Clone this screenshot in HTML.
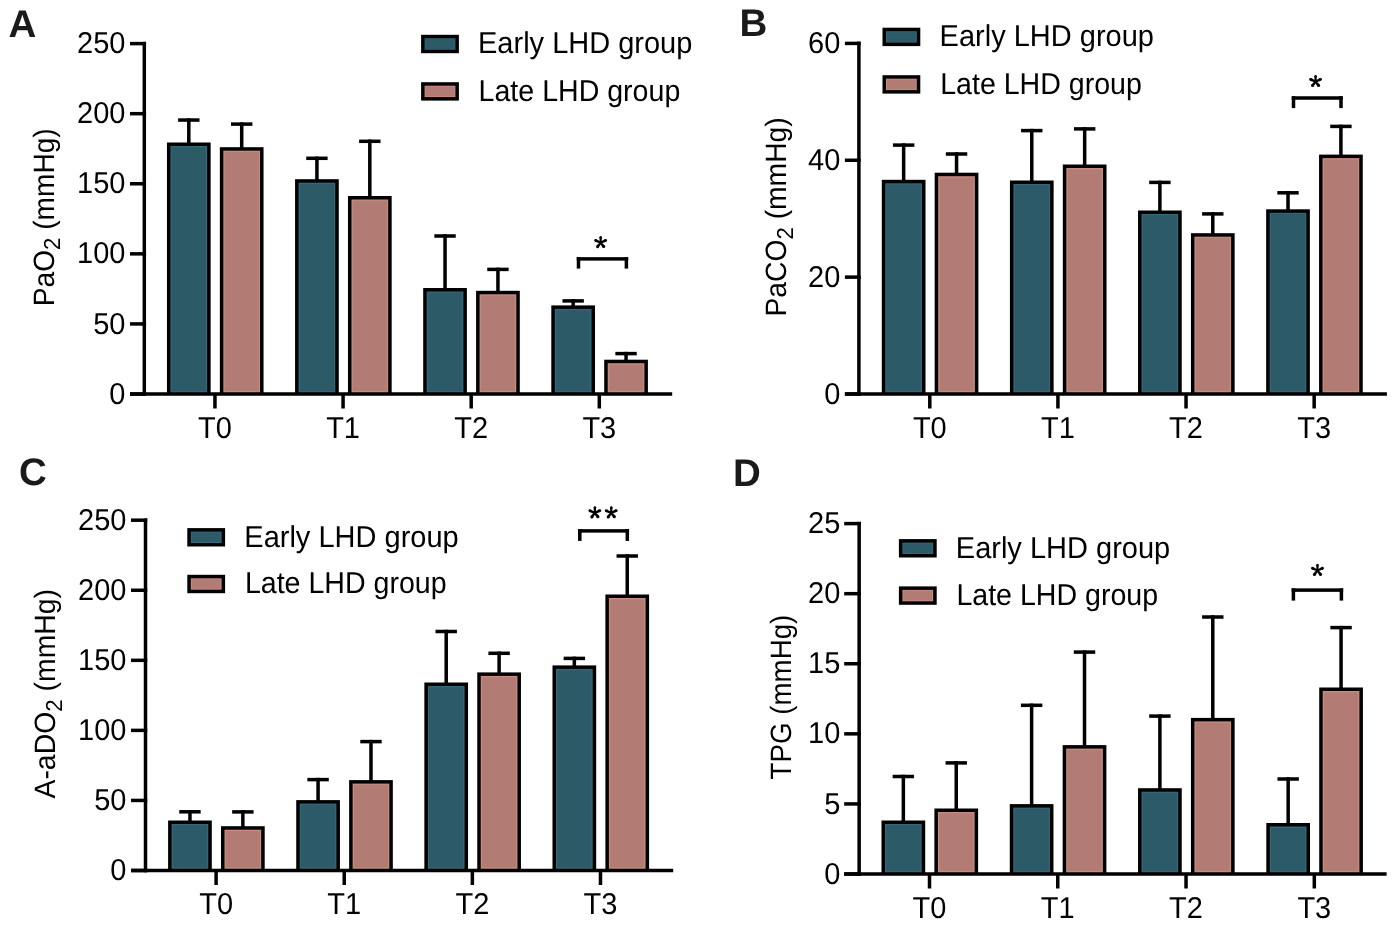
<!DOCTYPE html>
<html><head><meta charset="utf-8"><title>LHD groups</title>
<style>
html,body{margin:0;padding:0;background:#fff;}
body{width:1395px;height:928px;overflow:hidden;}
svg{display:block;will-change:transform;text-rendering:geometricPrecision;font-family:"Liberation Sans", sans-serif;}
</style></head><body>
<svg width="1395" height="928" viewBox="0 0 1395 928">
<rect width="1395" height="928" fill="#fff"/>
<rect x="130.00" y="392.25" width="16.05" height="3.50" fill="#000"/>
<text transform="translate(125.50,403.60) scale(1,1.04)" text-anchor="end" font-size="29" font-weight="normal" >0</text>
<rect x="130.00" y="322.17" width="16.05" height="3.50" fill="#000"/>
<text transform="translate(125.50,333.52) scale(1,1.04)" text-anchor="end" font-size="29" font-weight="normal" >50</text>
<rect x="130.00" y="252.09" width="16.05" height="3.50" fill="#000"/>
<text transform="translate(125.50,263.44) scale(1,1.04)" text-anchor="end" font-size="29" font-weight="normal" >100</text>
<rect x="130.00" y="182.01" width="16.05" height="3.50" fill="#000"/>
<text transform="translate(125.50,193.36) scale(1,1.04)" text-anchor="end" font-size="29" font-weight="normal" >150</text>
<rect x="130.00" y="111.93" width="16.05" height="3.50" fill="#000"/>
<text transform="translate(125.50,123.28) scale(1,1.04)" text-anchor="end" font-size="29" font-weight="normal" >200</text>
<rect x="130.00" y="41.85" width="16.05" height="3.50" fill="#000"/>
<text transform="translate(125.50,53.20) scale(1,1.04)" text-anchor="end" font-size="29" font-weight="normal" >250</text>
<rect x="142.55" y="41.85" width="3.50" height="353.90" fill="#000"/>
<rect x="213.20" y="394.00" width="3.50" height="14.50" fill="#000"/>
<text transform="translate(214.95,437.90) scale(1,1.04)" text-anchor="middle" font-size="29" font-weight="normal" >T0</text>
<rect x="341.32" y="394.00" width="3.50" height="14.50" fill="#000"/>
<text transform="translate(343.07,437.90) scale(1,1.04)" text-anchor="middle" font-size="29" font-weight="normal" >T1</text>
<rect x="469.44" y="394.00" width="3.50" height="14.50" fill="#000"/>
<text transform="translate(471.19,437.90) scale(1,1.04)" text-anchor="middle" font-size="29" font-weight="normal" >T2</text>
<rect x="597.56" y="394.00" width="3.50" height="14.50" fill="#000"/>
<text transform="translate(599.31,437.90) scale(1,1.04)" text-anchor="middle" font-size="29" font-weight="normal" >T3</text>
<rect x="187.05" y="118.30" width="3.50" height="27.70" fill="#000"/>
<rect x="178.10" y="118.30" width="21.40" height="3.50" fill="#000"/>
<rect x="166.95" y="142.50" width="43.70" height="251.50" fill="#000"/>
<rect x="170.45" y="146.00" width="36.70" height="248.00" fill="#35677a"/>
<rect x="171.75" y="147.30" width="34.10" height="243.65" fill="#2c5a66"/>
<rect x="239.95" y="122.35" width="3.50" height="28.35" fill="#000"/>
<rect x="231.00" y="122.35" width="21.40" height="3.50" fill="#000"/>
<rect x="219.85" y="147.20" width="43.70" height="246.80" fill="#000"/>
<rect x="223.35" y="150.70" width="36.70" height="243.30" fill="#c68a80"/>
<rect x="224.65" y="152.00" width="34.10" height="238.95" fill="#b27c74"/>
<rect x="315.17" y="156.55" width="3.50" height="26.15" fill="#000"/>
<rect x="306.22" y="156.55" width="21.40" height="3.50" fill="#000"/>
<rect x="295.07" y="179.20" width="43.70" height="214.80" fill="#000"/>
<rect x="298.57" y="182.70" width="36.70" height="211.30" fill="#35677a"/>
<rect x="299.87" y="184.00" width="34.10" height="206.95" fill="#2c5a66"/>
<rect x="368.07" y="139.55" width="3.50" height="59.95" fill="#000"/>
<rect x="359.12" y="139.55" width="21.40" height="3.50" fill="#000"/>
<rect x="347.97" y="196.00" width="43.70" height="198.00" fill="#000"/>
<rect x="351.47" y="199.50" width="36.70" height="194.50" fill="#c68a80"/>
<rect x="352.77" y="200.80" width="34.10" height="190.15" fill="#b27c74"/>
<rect x="443.29" y="234.25" width="3.50" height="57.25" fill="#000"/>
<rect x="434.34" y="234.25" width="21.40" height="3.50" fill="#000"/>
<rect x="423.19" y="288.00" width="43.70" height="106.00" fill="#000"/>
<rect x="426.69" y="291.50" width="36.70" height="102.50" fill="#35677a"/>
<rect x="427.99" y="292.80" width="34.10" height="98.15" fill="#2c5a66"/>
<rect x="496.19" y="267.65" width="3.50" height="26.65" fill="#000"/>
<rect x="487.24" y="267.65" width="21.40" height="3.50" fill="#000"/>
<rect x="476.09" y="290.80" width="43.70" height="103.20" fill="#000"/>
<rect x="479.59" y="294.30" width="36.70" height="99.70" fill="#c68a80"/>
<rect x="480.89" y="295.60" width="34.10" height="95.35" fill="#b27c74"/>
<rect x="571.41" y="299.15" width="3.50" height="9.75" fill="#000"/>
<rect x="562.46" y="299.15" width="21.40" height="3.50" fill="#000"/>
<rect x="551.31" y="305.40" width="43.70" height="88.60" fill="#000"/>
<rect x="554.81" y="308.90" width="36.70" height="85.10" fill="#35677a"/>
<rect x="556.11" y="310.20" width="34.10" height="80.75" fill="#2c5a66"/>
<rect x="624.31" y="351.85" width="3.50" height="11.35" fill="#000"/>
<rect x="615.36" y="351.85" width="21.40" height="3.50" fill="#000"/>
<rect x="604.21" y="359.70" width="43.70" height="34.30" fill="#000"/>
<rect x="607.71" y="363.20" width="36.70" height="30.80" fill="#c68a80"/>
<rect x="609.01" y="364.50" width="34.10" height="26.45" fill="#b27c74"/>
<rect x="130.00" y="392.25" width="542.20" height="3.50" fill="#000"/>
<rect x="576.75" y="257.15" width="51.40" height="3.50" fill="#000"/>
<rect x="576.75" y="257.15" width="3.50" height="11.45" fill="#000"/>
<rect x="624.65" y="257.15" width="3.50" height="11.45" fill="#000"/>
<g fill="#000"><path d="M601.55,242.72L599.65,242.68L599.45,237.28L601.95,237.32ZM600.99,241.83L600.21,243.57L595.11,241.82L596.29,239.18ZM600.99,243.57L600.21,241.83L605.00,239.13L606.20,241.77ZM599.84,242.13L601.36,243.27L598.80,247.60L596.40,245.80ZM599.86,243.30L601.34,242.10L604.92,245.66L602.58,247.54Z"/><circle cx="600.70" cy="237.30" r="1.25"/><circle cx="595.70" cy="240.50" r="1.45"/><circle cx="605.60" cy="240.45" r="1.45"/><circle cx="597.60" cy="246.70" r="1.50"/><circle cx="603.75" cy="246.60" r="1.50"/><circle cx="600.60" cy="242.70" r="1.3"/></g>
<rect x="421.10" y="34.80" width="37.80" height="18.40" fill="#000"/>
<rect x="424.60" y="38.30" width="30.80" height="11.40" fill="#35677a"/>
<rect x="425.60" y="39.30" width="28.80" height="9.40" fill="#2c5a66"/>
<text transform="translate(478.00,53.20) scale(1.0,1.04)" font-size="29">Early LHD group</text>
<rect x="421.10" y="82.20" width="37.80" height="18.40" fill="#000"/>
<rect x="424.60" y="85.70" width="30.80" height="11.40" fill="#c68a80"/>
<rect x="425.60" y="86.70" width="28.80" height="9.40" fill="#b27c74"/>
<text transform="translate(478.60,100.60) scale(0.985,1.04)" font-size="29">Late LHD group</text>
<text transform="translate(53.80,217.25) rotate(-90) scale(1.004,1.05)" text-anchor="middle" font-size="28">PaO<tspan font-size="22" dy="6.3">2</tspan><tspan dy="-6.3"> (mmHg)</tspan></text>
<text transform="translate(8.40,37.40) scale(1,1.0)" text-anchor="start" font-size="38.5" font-weight="bold" fill="#1a1a1a">A</text>
<rect x="844.90" y="392.25" width="15.75" height="3.50" fill="#000"/>
<text transform="translate(840.30,403.60) scale(1,1.04)" text-anchor="end" font-size="29" font-weight="normal" >0</text>
<rect x="844.90" y="275.38" width="15.75" height="3.50" fill="#000"/>
<text transform="translate(840.30,286.73) scale(1,1.04)" text-anchor="end" font-size="29" font-weight="normal" >20</text>
<rect x="844.90" y="158.52" width="15.75" height="3.50" fill="#000"/>
<text transform="translate(840.30,169.87) scale(1,1.04)" text-anchor="end" font-size="29" font-weight="normal" >40</text>
<rect x="844.90" y="41.65" width="15.75" height="3.50" fill="#000"/>
<text transform="translate(840.30,53.00) scale(1,1.04)" text-anchor="end" font-size="29" font-weight="normal" >60</text>
<rect x="857.15" y="41.65" width="3.50" height="354.10" fill="#000"/>
<rect x="928.05" y="394.00" width="3.50" height="14.50" fill="#000"/>
<text transform="translate(929.80,437.90) scale(1,1.04)" text-anchor="middle" font-size="29" font-weight="normal" >T0</text>
<rect x="1056.17" y="394.00" width="3.50" height="14.50" fill="#000"/>
<text transform="translate(1057.92,437.90) scale(1,1.04)" text-anchor="middle" font-size="29" font-weight="normal" >T1</text>
<rect x="1184.29" y="394.00" width="3.50" height="14.50" fill="#000"/>
<text transform="translate(1186.04,437.90) scale(1,1.04)" text-anchor="middle" font-size="29" font-weight="normal" >T2</text>
<rect x="1312.41" y="394.00" width="3.50" height="14.50" fill="#000"/>
<text transform="translate(1314.16,437.90) scale(1,1.04)" text-anchor="middle" font-size="29" font-weight="normal" >T3</text>
<rect x="901.90" y="143.35" width="3.50" height="39.95" fill="#000"/>
<rect x="892.95" y="143.35" width="21.40" height="3.50" fill="#000"/>
<rect x="881.80" y="179.80" width="43.70" height="214.20" fill="#000"/>
<rect x="885.30" y="183.30" width="36.70" height="210.70" fill="#35677a"/>
<rect x="886.60" y="184.60" width="34.10" height="206.35" fill="#2c5a66"/>
<rect x="954.80" y="152.25" width="3.50" height="23.95" fill="#000"/>
<rect x="945.85" y="152.25" width="21.40" height="3.50" fill="#000"/>
<rect x="934.70" y="172.70" width="43.70" height="221.30" fill="#000"/>
<rect x="938.20" y="176.20" width="36.70" height="217.80" fill="#c68a80"/>
<rect x="939.50" y="177.50" width="34.10" height="213.45" fill="#b27c74"/>
<rect x="1030.02" y="128.85" width="3.50" height="55.15" fill="#000"/>
<rect x="1021.07" y="128.85" width="21.40" height="3.50" fill="#000"/>
<rect x="1009.92" y="180.50" width="43.70" height="213.50" fill="#000"/>
<rect x="1013.42" y="184.00" width="36.70" height="210.00" fill="#35677a"/>
<rect x="1014.72" y="185.30" width="34.10" height="205.65" fill="#2c5a66"/>
<rect x="1082.92" y="127.15" width="3.50" height="40.85" fill="#000"/>
<rect x="1073.97" y="127.15" width="21.40" height="3.50" fill="#000"/>
<rect x="1062.82" y="164.50" width="43.70" height="229.50" fill="#000"/>
<rect x="1066.32" y="168.00" width="36.70" height="226.00" fill="#c68a80"/>
<rect x="1067.62" y="169.30" width="34.10" height="221.65" fill="#b27c74"/>
<rect x="1158.14" y="180.65" width="3.50" height="33.35" fill="#000"/>
<rect x="1149.19" y="180.65" width="21.40" height="3.50" fill="#000"/>
<rect x="1138.04" y="210.50" width="43.70" height="183.50" fill="#000"/>
<rect x="1141.54" y="214.00" width="36.70" height="180.00" fill="#35677a"/>
<rect x="1142.84" y="215.30" width="34.10" height="175.65" fill="#2c5a66"/>
<rect x="1211.04" y="212.15" width="3.50" height="24.55" fill="#000"/>
<rect x="1202.09" y="212.15" width="21.40" height="3.50" fill="#000"/>
<rect x="1190.94" y="233.20" width="43.70" height="160.80" fill="#000"/>
<rect x="1194.44" y="236.70" width="36.70" height="157.30" fill="#c68a80"/>
<rect x="1195.74" y="238.00" width="34.10" height="152.95" fill="#b27c74"/>
<rect x="1286.26" y="191.05" width="3.50" height="21.75" fill="#000"/>
<rect x="1277.31" y="191.05" width="21.40" height="3.50" fill="#000"/>
<rect x="1266.16" y="209.30" width="43.70" height="184.70" fill="#000"/>
<rect x="1269.66" y="212.80" width="36.70" height="181.20" fill="#35677a"/>
<rect x="1270.96" y="214.10" width="34.10" height="176.85" fill="#2c5a66"/>
<rect x="1339.16" y="124.65" width="3.50" height="33.45" fill="#000"/>
<rect x="1330.21" y="124.65" width="21.40" height="3.50" fill="#000"/>
<rect x="1319.06" y="154.60" width="43.70" height="239.40" fill="#000"/>
<rect x="1322.56" y="158.10" width="36.70" height="235.90" fill="#c68a80"/>
<rect x="1323.86" y="159.40" width="34.10" height="231.55" fill="#b27c74"/>
<rect x="844.90" y="392.25" width="542.00" height="3.50" fill="#000"/>
<rect x="1291.75" y="96.25" width="51.00" height="3.50" fill="#000"/>
<rect x="1291.75" y="96.25" width="3.50" height="11.85" fill="#000"/>
<rect x="1339.25" y="96.25" width="3.50" height="11.85" fill="#000"/>
<g fill="#000"><path d="M1316.45,81.62L1314.55,81.58L1314.35,76.18L1316.85,76.22ZM1315.89,80.73L1315.11,82.47L1310.01,80.72L1311.19,78.08ZM1315.89,82.47L1315.11,80.73L1319.90,78.03L1321.10,80.67ZM1314.74,81.03L1316.26,82.17L1313.70,86.50L1311.30,84.70ZM1314.76,82.20L1316.24,81.00L1319.82,84.56L1317.48,86.44Z"/><circle cx="1315.60" cy="76.20" r="1.25"/><circle cx="1310.60" cy="79.40" r="1.45"/><circle cx="1320.50" cy="79.35" r="1.45"/><circle cx="1312.50" cy="85.60" r="1.50"/><circle cx="1318.65" cy="85.50" r="1.50"/><circle cx="1315.50" cy="81.60" r="1.3"/></g>
<rect x="882.50" y="27.70" width="37.80" height="18.40" fill="#000"/>
<rect x="886.00" y="31.20" width="30.80" height="11.40" fill="#35677a"/>
<rect x="887.00" y="32.20" width="28.80" height="9.40" fill="#2c5a66"/>
<text transform="translate(939.60,46.10) scale(1.0,1.04)" font-size="29">Early LHD group</text>
<rect x="882.50" y="75.20" width="37.80" height="18.40" fill="#000"/>
<rect x="886.00" y="78.70" width="30.80" height="11.40" fill="#c68a80"/>
<rect x="887.00" y="79.70" width="28.80" height="9.40" fill="#b27c74"/>
<text transform="translate(940.20,93.60) scale(0.985,1.04)" font-size="29">Late LHD group</text>
<text transform="translate(785.90,216.90) rotate(-90) scale(1.009,1.05)" text-anchor="middle" font-size="28">PaCO<tspan font-size="22" dy="6.3">2</tspan><tspan dy="-6.3"> (mmHg)</tspan></text>
<text transform="translate(739.50,35.80) scale(1,1.0)" text-anchor="start" font-size="38.5" font-weight="bold" fill="#1a1a1a">B</text>
<rect x="131.00" y="868.75" width="16.25" height="3.50" fill="#000"/>
<text transform="translate(126.40,880.10) scale(1,1.04)" text-anchor="end" font-size="29" font-weight="normal" >0</text>
<rect x="131.00" y="798.69" width="16.25" height="3.50" fill="#000"/>
<text transform="translate(126.40,810.04) scale(1,1.04)" text-anchor="end" font-size="29" font-weight="normal" >50</text>
<rect x="131.00" y="728.63" width="16.25" height="3.50" fill="#000"/>
<text transform="translate(126.40,739.98) scale(1,1.04)" text-anchor="end" font-size="29" font-weight="normal" >100</text>
<rect x="131.00" y="658.57" width="16.25" height="3.50" fill="#000"/>
<text transform="translate(126.40,669.92) scale(1,1.04)" text-anchor="end" font-size="29" font-weight="normal" >150</text>
<rect x="131.00" y="588.51" width="16.25" height="3.50" fill="#000"/>
<text transform="translate(126.40,599.86) scale(1,1.04)" text-anchor="end" font-size="29" font-weight="normal" >200</text>
<rect x="131.00" y="518.45" width="16.25" height="3.50" fill="#000"/>
<text transform="translate(126.40,529.80) scale(1,1.04)" text-anchor="end" font-size="29" font-weight="normal" >250</text>
<rect x="143.75" y="518.45" width="3.50" height="353.80" fill="#000"/>
<rect x="214.35" y="870.50" width="3.50" height="14.50" fill="#000"/>
<text transform="translate(216.10,914.40) scale(1,1.04)" text-anchor="middle" font-size="29" font-weight="normal" >T0</text>
<rect x="342.48" y="870.50" width="3.50" height="14.50" fill="#000"/>
<text transform="translate(344.23,914.40) scale(1,1.04)" text-anchor="middle" font-size="29" font-weight="normal" >T1</text>
<rect x="470.61" y="870.50" width="3.50" height="14.50" fill="#000"/>
<text transform="translate(472.36,914.40) scale(1,1.04)" text-anchor="middle" font-size="29" font-weight="normal" >T2</text>
<rect x="598.74" y="870.50" width="3.50" height="14.50" fill="#000"/>
<text transform="translate(600.49,914.40) scale(1,1.04)" text-anchor="middle" font-size="29" font-weight="normal" >T3</text>
<rect x="188.20" y="810.05" width="3.50" height="13.95" fill="#000"/>
<rect x="179.25" y="810.05" width="21.40" height="3.50" fill="#000"/>
<rect x="168.10" y="820.50" width="43.70" height="50.00" fill="#000"/>
<rect x="171.60" y="824.00" width="36.70" height="46.50" fill="#35677a"/>
<rect x="172.90" y="825.30" width="34.10" height="42.15" fill="#2c5a66"/>
<rect x="241.10" y="810.15" width="3.50" height="19.55" fill="#000"/>
<rect x="232.15" y="810.15" width="21.40" height="3.50" fill="#000"/>
<rect x="221.00" y="826.20" width="43.70" height="44.30" fill="#000"/>
<rect x="224.50" y="829.70" width="36.70" height="40.80" fill="#c68a80"/>
<rect x="225.80" y="831.00" width="34.10" height="36.45" fill="#b27c74"/>
<rect x="316.33" y="777.85" width="3.50" height="25.75" fill="#000"/>
<rect x="307.38" y="777.85" width="21.40" height="3.50" fill="#000"/>
<rect x="296.23" y="800.10" width="43.70" height="70.40" fill="#000"/>
<rect x="299.73" y="803.60" width="36.70" height="66.90" fill="#35677a"/>
<rect x="301.03" y="804.90" width="34.10" height="62.55" fill="#2c5a66"/>
<rect x="369.23" y="739.85" width="3.50" height="43.75" fill="#000"/>
<rect x="360.28" y="739.85" width="21.40" height="3.50" fill="#000"/>
<rect x="349.13" y="780.10" width="43.70" height="90.40" fill="#000"/>
<rect x="352.63" y="783.60" width="36.70" height="86.90" fill="#c68a80"/>
<rect x="353.93" y="784.90" width="34.10" height="82.55" fill="#b27c74"/>
<rect x="444.46" y="629.75" width="3.50" height="56.25" fill="#000"/>
<rect x="435.51" y="629.75" width="21.40" height="3.50" fill="#000"/>
<rect x="424.36" y="682.50" width="43.70" height="188.00" fill="#000"/>
<rect x="427.86" y="686.00" width="36.70" height="184.50" fill="#35677a"/>
<rect x="429.16" y="687.30" width="34.10" height="180.15" fill="#2c5a66"/>
<rect x="497.36" y="651.55" width="3.50" height="24.35" fill="#000"/>
<rect x="488.41" y="651.55" width="21.40" height="3.50" fill="#000"/>
<rect x="477.26" y="672.40" width="43.70" height="198.10" fill="#000"/>
<rect x="480.76" y="675.90" width="36.70" height="194.60" fill="#c68a80"/>
<rect x="482.06" y="677.20" width="34.10" height="190.25" fill="#b27c74"/>
<rect x="572.59" y="656.65" width="3.50" height="12.25" fill="#000"/>
<rect x="563.64" y="656.65" width="21.40" height="3.50" fill="#000"/>
<rect x="552.49" y="665.40" width="43.70" height="205.10" fill="#000"/>
<rect x="555.99" y="668.90" width="36.70" height="201.60" fill="#35677a"/>
<rect x="557.29" y="670.20" width="34.10" height="197.25" fill="#2c5a66"/>
<rect x="625.49" y="554.25" width="3.50" height="43.75" fill="#000"/>
<rect x="616.54" y="554.25" width="21.40" height="3.50" fill="#000"/>
<rect x="605.39" y="594.50" width="43.70" height="276.00" fill="#000"/>
<rect x="608.89" y="598.00" width="36.70" height="272.50" fill="#c68a80"/>
<rect x="610.19" y="599.30" width="34.10" height="268.15" fill="#b27c74"/>
<rect x="131.00" y="868.75" width="542.20" height="3.50" fill="#000"/>
<rect x="578.05" y="529.15" width="51.00" height="3.50" fill="#000"/>
<rect x="578.05" y="529.15" width="3.50" height="11.75" fill="#000"/>
<rect x="625.55" y="529.15" width="3.50" height="11.75" fill="#000"/>
<g fill="#000"><path d="M595.75,512.92L593.85,512.88L593.65,507.48L596.15,507.52ZM595.19,512.03L594.41,513.77L589.31,512.02L590.49,509.38ZM595.19,513.77L594.41,512.03L599.20,509.33L600.40,511.97ZM594.04,512.33L595.56,513.47L593.00,517.80L590.60,516.00ZM594.06,513.50L595.54,512.30L599.12,515.86L596.78,517.74Z"/><circle cx="594.90" cy="507.50" r="1.25"/><circle cx="589.90" cy="510.70" r="1.45"/><circle cx="599.80" cy="510.65" r="1.45"/><circle cx="591.80" cy="516.90" r="1.50"/><circle cx="597.95" cy="516.80" r="1.50"/><circle cx="594.80" cy="512.90" r="1.3"/></g>
<g fill="#000"><path d="M612.15,512.92L610.25,512.88L610.05,507.48L612.55,507.52ZM611.59,512.03L610.81,513.77L605.71,512.02L606.89,509.38ZM611.59,513.77L610.81,512.03L615.60,509.33L616.80,511.97ZM610.44,512.33L611.96,513.47L609.40,517.80L607.00,516.00ZM610.46,513.50L611.94,512.30L615.52,515.86L613.18,517.74Z"/><circle cx="611.30" cy="507.50" r="1.25"/><circle cx="606.30" cy="510.70" r="1.45"/><circle cx="616.20" cy="510.65" r="1.45"/><circle cx="608.20" cy="516.90" r="1.50"/><circle cx="614.35" cy="516.80" r="1.50"/><circle cx="611.20" cy="512.90" r="1.3"/></g>
<rect x="187.30" y="528.10" width="37.80" height="18.40" fill="#000"/>
<rect x="190.80" y="531.60" width="30.80" height="11.40" fill="#35677a"/>
<rect x="191.80" y="532.60" width="28.80" height="9.40" fill="#2c5a66"/>
<text transform="translate(244.30,546.50) scale(1.0,1.04)" font-size="29">Early LHD group</text>
<rect x="187.30" y="574.80" width="37.80" height="18.40" fill="#000"/>
<rect x="190.80" y="578.30" width="30.80" height="11.40" fill="#c68a80"/>
<rect x="191.80" y="579.30" width="28.80" height="9.40" fill="#b27c74"/>
<text transform="translate(244.90,593.20) scale(0.985,1.04)" font-size="29">Late LHD group</text>
<text transform="translate(55.00,693.75) rotate(-90) scale(1.014,1.05)" text-anchor="middle" font-size="28">A-aDO<tspan font-size="22" dy="6.3">2</tspan><tspan dy="-6.3"> (mmHg)</tspan></text>
<text transform="translate(19.00,485.40) scale(1,1.0)" text-anchor="start" font-size="38.5" font-weight="bold" fill="#1a1a1a">C</text>
<rect x="844.20" y="872.25" width="16.70" height="3.50" fill="#000"/>
<text transform="translate(840.30,883.60) scale(1,1.04)" text-anchor="end" font-size="29" font-weight="normal" >0</text>
<rect x="844.20" y="802.17" width="16.70" height="3.50" fill="#000"/>
<text transform="translate(840.30,813.52) scale(1,1.04)" text-anchor="end" font-size="29" font-weight="normal" >5</text>
<rect x="844.20" y="732.09" width="16.70" height="3.50" fill="#000"/>
<text transform="translate(840.30,743.44) scale(1,1.04)" text-anchor="end" font-size="29" font-weight="normal" >10</text>
<rect x="844.20" y="662.01" width="16.70" height="3.50" fill="#000"/>
<text transform="translate(840.30,673.36) scale(1,1.04)" text-anchor="end" font-size="29" font-weight="normal" >15</text>
<rect x="844.20" y="591.93" width="16.70" height="3.50" fill="#000"/>
<text transform="translate(840.30,603.28) scale(1,1.04)" text-anchor="end" font-size="29" font-weight="normal" >20</text>
<rect x="844.20" y="521.85" width="16.70" height="3.50" fill="#000"/>
<text transform="translate(840.30,533.20) scale(1,1.04)" text-anchor="end" font-size="29" font-weight="normal" >25</text>
<rect x="857.40" y="521.85" width="3.50" height="353.90" fill="#000"/>
<rect x="927.75" y="874.00" width="3.50" height="14.50" fill="#000"/>
<text transform="translate(929.50,917.90) scale(1,1.04)" text-anchor="middle" font-size="29" font-weight="normal" >T0</text>
<rect x="1056.02" y="874.00" width="3.50" height="14.50" fill="#000"/>
<text transform="translate(1057.77,917.90) scale(1,1.04)" text-anchor="middle" font-size="29" font-weight="normal" >T1</text>
<rect x="1184.29" y="874.00" width="3.50" height="14.50" fill="#000"/>
<text transform="translate(1186.04,917.90) scale(1,1.04)" text-anchor="middle" font-size="29" font-weight="normal" >T2</text>
<rect x="1312.56" y="874.00" width="3.50" height="14.50" fill="#000"/>
<text transform="translate(1314.31,917.90) scale(1,1.04)" text-anchor="middle" font-size="29" font-weight="normal" >T3</text>
<rect x="901.60" y="774.75" width="3.50" height="49.25" fill="#000"/>
<rect x="892.65" y="774.75" width="21.40" height="3.50" fill="#000"/>
<rect x="881.50" y="820.50" width="43.70" height="53.50" fill="#000"/>
<rect x="885.00" y="824.00" width="36.70" height="50.00" fill="#35677a"/>
<rect x="886.30" y="825.30" width="34.10" height="45.65" fill="#2c5a66"/>
<rect x="954.50" y="761.15" width="3.50" height="50.85" fill="#000"/>
<rect x="945.55" y="761.15" width="21.40" height="3.50" fill="#000"/>
<rect x="934.40" y="808.50" width="43.70" height="65.50" fill="#000"/>
<rect x="937.90" y="812.00" width="36.70" height="62.00" fill="#c68a80"/>
<rect x="939.20" y="813.30" width="34.10" height="57.65" fill="#b27c74"/>
<rect x="1029.87" y="703.55" width="3.50" height="104.05" fill="#000"/>
<rect x="1020.92" y="703.55" width="21.40" height="3.50" fill="#000"/>
<rect x="1009.77" y="804.10" width="43.70" height="69.90" fill="#000"/>
<rect x="1013.27" y="807.60" width="36.70" height="66.40" fill="#35677a"/>
<rect x="1014.57" y="808.90" width="34.10" height="62.05" fill="#2c5a66"/>
<rect x="1082.77" y="650.35" width="3.50" height="98.25" fill="#000"/>
<rect x="1073.82" y="650.35" width="21.40" height="3.50" fill="#000"/>
<rect x="1062.67" y="745.10" width="43.70" height="128.90" fill="#000"/>
<rect x="1066.17" y="748.60" width="36.70" height="125.40" fill="#c68a80"/>
<rect x="1067.47" y="749.90" width="34.10" height="121.05" fill="#b27c74"/>
<rect x="1158.14" y="714.35" width="3.50" height="77.35" fill="#000"/>
<rect x="1149.19" y="714.35" width="21.40" height="3.50" fill="#000"/>
<rect x="1138.04" y="788.20" width="43.70" height="85.80" fill="#000"/>
<rect x="1141.54" y="791.70" width="36.70" height="82.30" fill="#35677a"/>
<rect x="1142.84" y="793.00" width="34.10" height="77.95" fill="#2c5a66"/>
<rect x="1211.04" y="615.25" width="3.50" height="106.15" fill="#000"/>
<rect x="1202.09" y="615.25" width="21.40" height="3.50" fill="#000"/>
<rect x="1190.94" y="717.90" width="43.70" height="156.10" fill="#000"/>
<rect x="1194.44" y="721.40" width="36.70" height="152.60" fill="#c68a80"/>
<rect x="1195.74" y="722.70" width="34.10" height="148.25" fill="#b27c74"/>
<rect x="1286.41" y="777.25" width="3.50" height="49.25" fill="#000"/>
<rect x="1277.46" y="777.25" width="21.40" height="3.50" fill="#000"/>
<rect x="1266.31" y="823.00" width="43.70" height="51.00" fill="#000"/>
<rect x="1269.81" y="826.50" width="36.70" height="47.50" fill="#35677a"/>
<rect x="1271.11" y="827.80" width="34.10" height="43.15" fill="#2c5a66"/>
<rect x="1339.31" y="625.85" width="3.50" height="65.15" fill="#000"/>
<rect x="1330.36" y="625.85" width="21.40" height="3.50" fill="#000"/>
<rect x="1319.21" y="687.50" width="43.70" height="186.50" fill="#000"/>
<rect x="1322.71" y="691.00" width="36.70" height="183.00" fill="#c68a80"/>
<rect x="1324.01" y="692.30" width="34.10" height="178.65" fill="#b27c74"/>
<rect x="844.20" y="872.25" width="542.40" height="3.50" fill="#000"/>
<rect x="1291.65" y="588.35" width="51.50" height="3.50" fill="#000"/>
<rect x="1291.65" y="588.35" width="3.50" height="12.25" fill="#000"/>
<rect x="1339.65" y="588.35" width="3.50" height="12.25" fill="#000"/>
<g fill="#000"><path d="M1318.35,570.52L1316.45,570.48L1316.25,565.08L1318.75,565.12ZM1317.79,569.63L1317.01,571.37L1311.91,569.62L1313.09,566.98ZM1317.79,571.37L1317.01,569.63L1321.80,566.93L1323.00,569.57ZM1316.64,569.93L1318.16,571.07L1315.60,575.40L1313.20,573.60ZM1316.66,571.10L1318.14,569.90L1321.72,573.46L1319.38,575.34Z"/><circle cx="1317.50" cy="565.10" r="1.25"/><circle cx="1312.50" cy="568.30" r="1.45"/><circle cx="1322.40" cy="568.25" r="1.45"/><circle cx="1314.40" cy="574.50" r="1.50"/><circle cx="1320.55" cy="574.40" r="1.50"/><circle cx="1317.40" cy="570.50" r="1.3"/></g>
<rect x="898.90" y="539.10" width="37.80" height="18.40" fill="#000"/>
<rect x="902.40" y="542.60" width="30.80" height="11.40" fill="#35677a"/>
<rect x="903.40" y="543.60" width="28.80" height="9.40" fill="#2c5a66"/>
<text transform="translate(955.80,557.50) scale(1.0,1.04)" font-size="29">Early LHD group</text>
<rect x="898.90" y="586.40" width="37.80" height="18.40" fill="#000"/>
<rect x="902.40" y="589.90" width="30.80" height="11.40" fill="#c68a80"/>
<rect x="903.40" y="590.90" width="28.80" height="9.40" fill="#b27c74"/>
<text transform="translate(956.40,604.80) scale(0.985,1.04)" font-size="29">Late LHD group</text>
<text transform="translate(790.70,697.10) rotate(-90) scale(0.991,1.05)" text-anchor="middle" font-size="28">TPG (mmHg)</text>
<text transform="translate(733.00,485.60) scale(1,1.0)" text-anchor="start" font-size="38.5" font-weight="bold" fill="#1a1a1a">D</text>
</svg>
</body></html>
